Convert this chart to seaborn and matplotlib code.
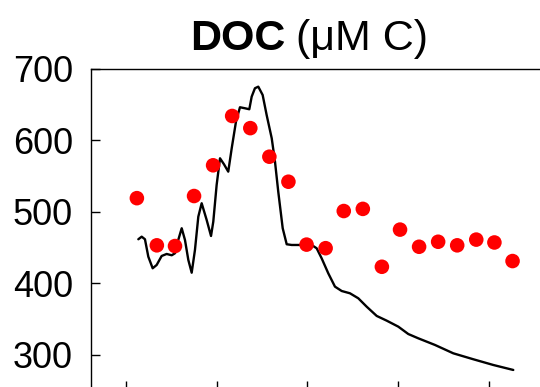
import matplotlib
matplotlib.use("Agg")
import matplotlib.pyplot as plt
import seaborn as sns
import pandas as pd

# Discrete DOC samples (red dots)
sample_x = [1.2, 3.4, 5.4, 7.5, 9.6, 11.7, 13.7, 15.8, 17.9, 19.9, 22.0,
            24.0, 26.1, 28.2, 30.2, 32.3, 34.4, 36.5, 38.6, 40.6, 42.6]
sample_doc = [519, 453, 452, 522, 565, 634, 617, 577, 542, 454, 449,
              501, 504, 423, 475, 451, 458, 453, 461, 457, 431]

# Continuous DOC record (black line)
trace_x = [1.36, 1.73, 2.09, 2.46, 2.94, 3.38, 3.93, 4.48, 5.04, 5.40,
           5.76, 6.14, 6.50, 6.87, 7.24, 7.60, 7.97, 8.34, 8.89, 9.37,
           9.62, 9.99, 10.36, 10.80, 11.27, 11.65, 12.12, 12.56, 13.11, 13.59,
           13.85, 14.21, 14.58, 15.06, 15.50, 16.06, 16.42, 16.78, 17.27, 17.71,
           18.26, 19.17, 20.46, 21.01, 21.56, 22.29, 23.03, 23.77, 24.68, 25.60,
           26.52, 27.63, 28.73, 30.01, 31.11, 32.21, 34.05, 36.07, 38.27, 40.47,
           42.68]
trace_doc = [461.5, 465.1, 461.5, 437.1, 420.9, 425.5, 438.1, 440.9, 439.1, 441.9,
             460.5, 476.9, 460.5, 432.5, 414.7, 446.5, 493.1, 511.9, 488.5, 466.1,
             486.1, 537.5, 574.8, 566.4, 556.1, 588.8, 626.0, 646.2, 644.8, 643.4,
             661.0, 672.8, 675.0, 663.4, 635.4, 602.8, 570.1, 528.1, 476.9, 454.5,
             453.5, 453.5, 453.5, 448.9, 434.9, 413.9, 395.2, 389.1, 385.9, 378.9,
             367.2, 354.2, 347.6, 339.2, 328.9, 322.9, 313.6, 301.9, 293.6, 285.6,
             278.6]

x_ticks = [0, 10, 20, 30, 40]
y_ticks = [300, 400, 500, 600, 700]

sns.set_theme(style="ticks")
plt.rcParams["font.family"] = ["Liberation Sans", "DejaVu Sans"]
plt.rcParams["text.color"] = "black"

samples = pd.DataFrame({"x": sample_x, "doc": sample_doc})
trace = pd.DataFrame({"x": trace_x, "doc": trace_doc})

fig = plt.figure(figsize=(5.4, 3.87), dpi=100)
ax = fig.add_axes([0.1685, -0.0088, 0.8815, 0.831])

sns.lineplot(data=trace, x="x", y="doc", ax=ax, color="black",
             linewidth=1.7, sort=False, estimator=None)
sns.scatterplot(data=samples, x="x", y="doc", ax=ax, color="#ff0000",
                s=110, edgecolor="none", linewidth=0, zorder=3)

ax.set_xlim(-3.857, 48.6)
ax.set_ylim(250, 700)
ax.set_xticks(x_ticks)
ax.set_yticks(y_ticks)
ax.set_xlabel("")
ax.set_ylabel("")
ax.tick_params(axis="both", direction="in", length=6.5, width=1.0,
               color="black", labelcolor="black", labelsize=26, pad=13)
ax.tick_params(axis="x", labelbottom=False)
for side in ("left", "top", "bottom"):
    ax.spines[side].set_color("black")
    ax.spines[side].set_linewidth(1.0)
ax.spines["right"].set_visible(False)

# Title with a bold quantity name followed by its unit
t1 = fig.text(190 / 540, 1 - 50 / 387, "DOC", fontsize=31, fontweight="bold",
              ha="left", va="baseline", color="black")
ax.annotate("(\u03bcM C)", xy=(1, 0), xycoords=t1, xytext=(8, 0),
            textcoords="offset points", fontsize=31, ha="left",
            va="bottom", color="black", annotation_clip=False)

fig.savefig("out.png", dpi=100)
